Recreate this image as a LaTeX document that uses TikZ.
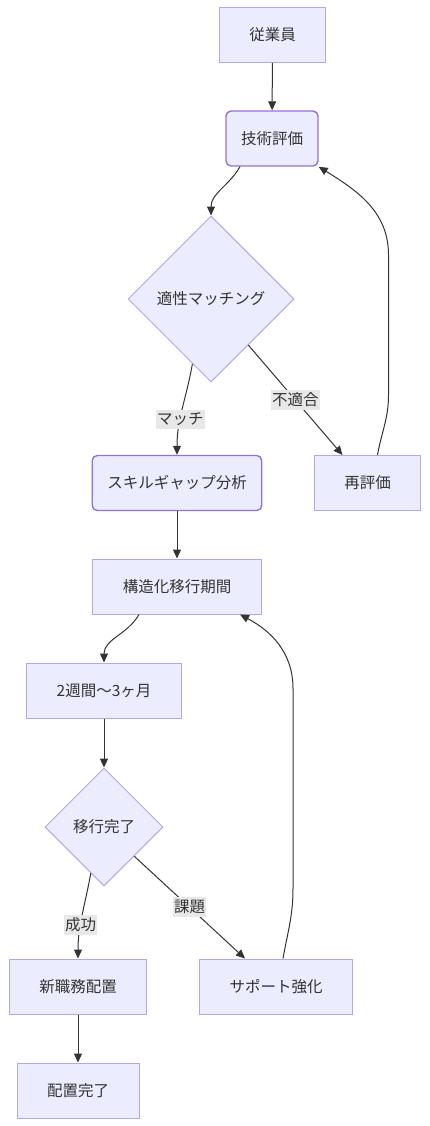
\documentclass[tikz,border=0pt]{standalone}
\usepackage{fontspec}
\setmainfont{Noto Sans CJK JP}
\usetikzlibrary{shapes.geometric,arrows.meta}

\definecolor{boxfill}{HTML}{ECECFF}
\definecolor{boxline}{HTML}{B5A6E6}
\definecolor{roundline}{HTML}{9370DB}
\definecolor{inkgray}{HTML}{333333}
\definecolor{labelfill}{HTML}{E8E8E8}

\tikzset{
  stepbox/.style={draw=boxline, fill=boxfill, line width=1pt, inner xsep=30pt,
    inner ysep=0pt, minimum height=55pt, text=inkgray},
  roundbox/.style={draw=roundline, fill=boxfill, line width=1.4pt, rounded corners=5pt,
    inner xsep=15pt, inner ysep=0pt, minimum height=55pt, text=inkgray},
  choice/.style={diamond, draw=boxline, fill=boxfill, line width=1pt, inner sep=0pt,
    text=inkgray},
  edgetag/.style={fill=labelfill, text=inkgray, inner xsep=1pt, inner ysep=3pt},
  link/.style={->, draw=inkgray, line width=1pt}
}

\begin{document}
\begin{tikzpicture}[x=1pt,y=1pt,>={Triangle[length=9pt,width=8pt]},
  every node/.style={font=\fontsize{15.5pt}{18pt}\selectfont}]

  \useasboundingbox (0,0) rectangle (430,-1126);

  % Nodes
  \node[stepbox]  (emp) at (272.5,-35)   {従業員};
  \node[roundbox] (ta)  at (272,-138.5)  {技術評価};
  \node[choice, minimum width=166pt, minimum height=166pt] (md) at (211,-299) {適性マッチング};
  \node[roundbox] (sk)  at (177,-483)    {スキルギャップ分析};
  \node[stepbox]  (re)  at (367.5,-483)  {再評価};
  \node[stepbox]  (st)  at (177,-586.5)  {構造化移行期間};
  \node[stepbox]  (wk)  at (104,-690.5)  {2週間〜3ヶ月};
  \node[choice, minimum width=118pt, minimum height=118pt] (mv) at (104,-827) {移行完了};
  \node[stepbox]  (nj)  at (78,-986.5)   {新職務配置};
  \node[stepbox]  (sp)  at (276,-986.5)  {サポート強化};
  \node[stepbox]  (dn)  at (78,-1090.5)  {配置完了};

  % Edges
  \draw[link] (emp) -- (ta);
  \draw[link] ([xshift=-32pt]ta.south) to[out=-120,in=90] (md.north);
  \draw[link] (md.-106) to[out=-100,in=90]
    node[edgetag, pos=0.62] {マッチ} (sk.north);
  \draw[link] (md.-51) -- node[edgetag] {不適合} ([xshift=-25pt]re.north);
  \draw[link] ([xshift=10pt]re.north) to[out=80,in=-90] ++(11,60) -- ++(0,140)
    to[out=90,in=-32] (ta.south east);
  \draw[link] (sk) -- (st);
  \draw[link] ([xshift=-38pt]st.south) to[out=-120,in=90] (wk.north);
  \draw[link] (wk) -- (mv);
  \draw[link] (mv.-106) to[out=-100,in=90]
    node[edgetag, pos=0.62] {成功} (nj.north);
  \draw[link] (mv.-44) -- node[edgetag] {課題} ([xshift=-31pt]sp.north);
  \draw[link] ([xshift=7pt]sp.north) to[out=80,in=-90] ++(10,70) -- ++(0,200)
    to[out=90,in=-28] ([xshift=63pt]st.south);
  \draw[link] (nj) -- (dn);

\end{tikzpicture}
\end{document}
